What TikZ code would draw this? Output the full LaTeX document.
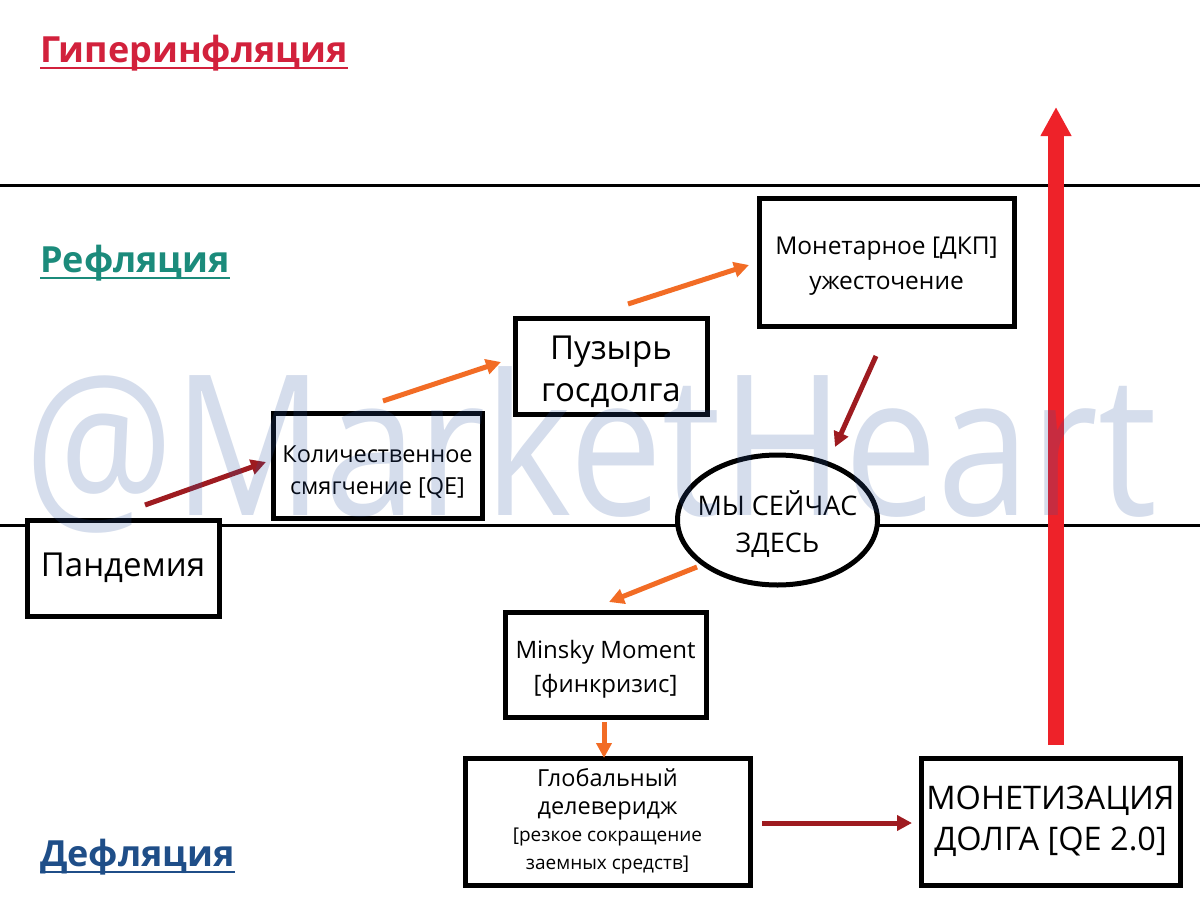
\documentclass[tikz,border=0pt]{standalone}
\usepackage{fontspec}
\setmainfont{Open Sans}
\usetikzlibrary{arrows.meta,shapes.geometric}
\definecolor{hyper}{HTML}{D2213C}
\definecolor{refl}{HTML}{1B8B7B}
\definecolor{defl}{HTML}{1F4E88}
\definecolor{dred}{HTML}{9E1B20}
\definecolor{orng}{HTML}{F26C25}
\definecolor{bigred}{HTML}{EE2229}
\definecolor{wm}{HTML}{2F55A0}
\tikzset{
  box/.style={draw=black,line width=5pt,fill=white,align=center,inner sep=0pt},
  lbl/.style={align=center,inner sep=0pt},
  ttl/.style={anchor=base west,inner sep=0pt,font=\bfseries\fontsize{36}{40}\selectfont},
  arrd/.style={draw=dred,line width=5pt,-{Triangle[length=15pt,width=15pt]}},
  arro/.style={draw=orng,line width=5pt,-{Triangle[length=15pt,width=15pt]}},
}
\begin{document}
\begin{tikzpicture}[x=1pt,y=-1pt]
\useasboundingbox[fill=white] (0,0) rectangle (1200,900);
% level lines
\draw[line width=3pt] (0,185) -- (1200,185);
\draw[line width=3pt] (0,525) -- (1200,525);
% titles
\node[ttl,text=hyper] (t1) at (40,62) {Гиперинфляция};
\draw[hyper,line width=2.5pt] ([yshift=-6pt]t1.base west) -- ([yshift=-6pt]t1.base east);
\node[ttl,text=refl] (t2) at (40,272) {Рефляция};
\draw[refl,line width=2.5pt] ([yshift=-6pt]t2.base west) -- ([yshift=-6pt]t2.base east);
\node[ttl,text=defl] (t3) at (40,866) {Дефляция};
\draw[defl,line width=2.5pt] ([yshift=-6pt]t3.base west) -- ([yshift=-6pt]t3.base east);
% boxes
\node[box,minimum width=192pt,minimum height=96pt,font=\fontsize{33}{40}\selectfont] (pand) at (123,568) {Пандемия};
\node[box,minimum width=209pt,minimum height=105pt,
  label={[lbl,yshift=-7pt,font=\fontsize{23.5}{32}\selectfont]center:{Количественное\\смягчение [QE]}}] (qe) at (377.5,465.5) {};
\node[box,minimum width=192pt,minimum height=96pt,
  label={[lbl,yshift=-6pt,font=\fontsize{33}{42}\selectfont]center:{Пузырь\\госдолга}}] (bub) at (611,366) {};
\node[box,minimum width=255pt,minimum height=128pt,
  label={[lbl,yshift=-4pt,font=\fontsize{24.5}{35}\selectfont]center:{Монетарное [ДКП]\\ужесточение}}] (tight) at (886.5,262) {};
\node[box,ellipse,inner xsep=-11pt,minimum width=200pt,minimum height=130pt,font=\fontsize{27}{37}\selectfont] (here) at (777.5,520) {\\[-3pt]МЫ СЕЙЧАС\\ЗДЕСЬ};
\node[box,minimum width=201pt,minimum height=105pt,
  label={[lbl,yshift=-5pt,font=\fontsize{24}{34}\selectfont]center:{Minsky Moment\\{}[финкризис]}}] (minsky) at (605.5,664.5) {};
\node[box,minimum width=285pt,minimum height=127pt,font=\fontsize{23.5}{28}\selectfont] (delev) at (607.5,821.5) {Глобальный\\делеверидж\\[-1pt]{\fontsize{19}{25}\selectfont [резкое сокращение}\\{\fontsize{19}{25}\selectfont заемных средств]}};
\node[box,minimum width=259pt,minimum height=127pt,font=\fontsize{32.5}{41}\selectfont] (monet) at (1050.5,821.5) {МОНЕТИЗАЦИЯ\\ДОЛГА [QE 2.0]};
% arrows
\coordinate (a1s) at (145,505); \coordinate (a1e) at (266,462);
\draw[arrd] (a1s) -- (a1e);
\coordinate (a2s) at (383,401); \coordinate (a2e) at (501,362);
\draw[arro] (a2s) -- (a2e);
\coordinate (a3s) at (628,304); \coordinate (a3e) at (749,265);
\draw[arro] (a3s) -- (a3e);
\coordinate (a4s) at (876,356); \coordinate (a4e) at (835,447);
\draw[arrd] (a4s) -- (a4e);
\coordinate (a5s) at (697,567); \coordinate (a5e) at (609,602);
\draw[arro] (a5s) -- (a5e);
\coordinate (a6s) at (604,722); \coordinate (a6e) at (604,758);
\draw[arro] (a6s) -- (a6e);
\coordinate (a7s) at (762,823); \coordinate (a7e) at (912,823);
\draw[arrd] (a7s) -- (a7e);
\coordinate (a8s) at (1056,745); \coordinate (a8e) at (1056,107);
\draw[bigred,line width=16pt,-{Triangle[length=29pt,width=29pt]}] (a8s) -- (a8e);
% watermark
\node[anchor=base west,inner sep=0pt,text=wm,opacity=0.2,xscale=0.85,font=\fontsize{196}{200}\selectfont] (wmk) at (24,515) {@MarketHeart};
\end{tikzpicture}
\end{document}
